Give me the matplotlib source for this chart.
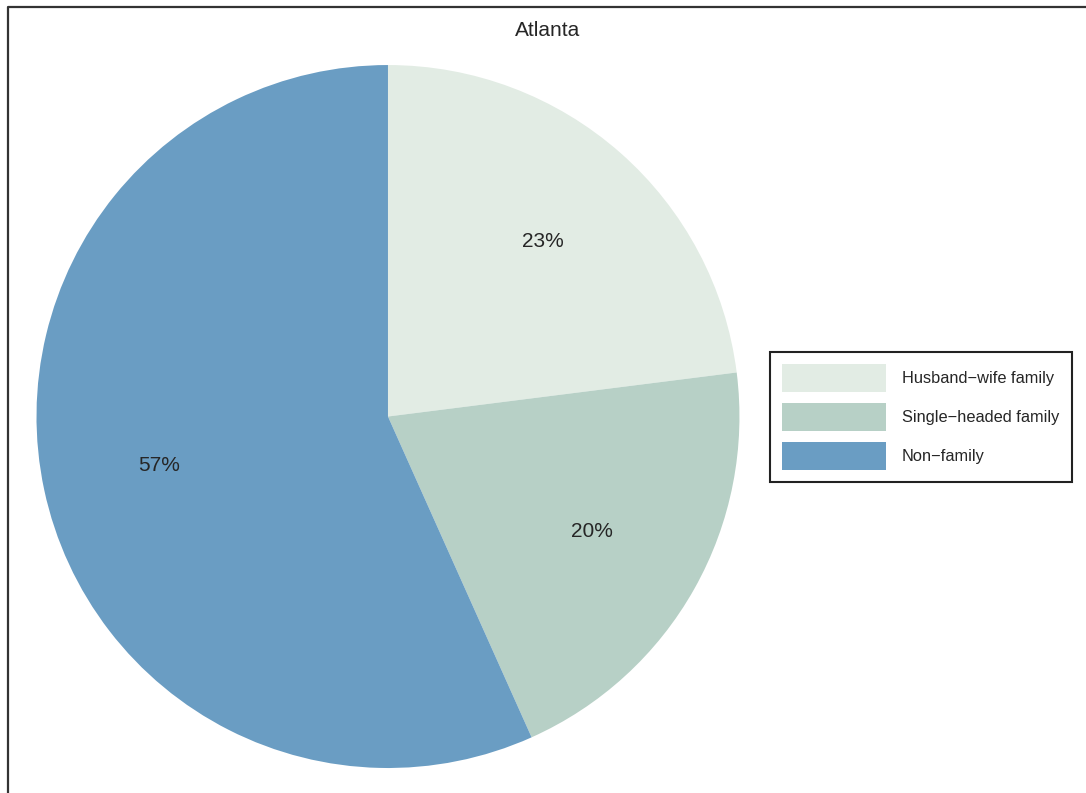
import matplotlib
matplotlib.use("Agg")
import matplotlib.pyplot as plt
from matplotlib.lines import Line2D

plt.rcParams['font.family'] = ['Liberation Sans', 'DejaVu Sans']

# household shares for Atlanta
categories = ['Husband\u2212wife family', 'Single\u2212headed family', 'Non\u2212family']
shares = [0.230, 0.203, 0.567]
colors = ['#e2ece4', '#b7d0c6', '#6a9dc3']

fig = plt.figure(figsize=(10.86, 7.93), dpi=100)

# pie axes, equal aspect
ax = fig.add_axes([0.0336, 0.0315, 0.6473, 0.8865])
wedges, texts, autotexts = ax.pie(
    shares, colors=colors, startangle=90, counterclock=False,
    autopct='%.0f%%', pctdistance=0.665, radius=1.0,
    wedgeprops=dict(linewidth=0),
    textprops=dict(fontsize=15, color='#262626'))
ax.set_xlim(-1, 1)
ax.set_ylim(-1, 1)
ax.set_aspect('equal')

fig.text(0.504, 1 - 30 / 793, 'Atlanta', ha='center', va='center',
         fontsize=15, color='#262626')

leg = fig.legend(wedges, categories, loc='upper left',
                 bbox_to_anchor=(770 / 1086, 1 - 352 / 793),
                 borderaxespad=0, fontsize=11.8, fancybox=False,
                 handlelength=6.3, handleheight=2.2, labelspacing=0.7,
                 handletextpad=1.0, borderpad=0.75, framealpha=1)
leg.get_frame().set_edgecolor('#222222')
leg.get_frame().set_linewidth(1.5)
for t in leg.get_texts():
    t.set_color('#262626')

# outer frame (left and top edges only are visible)
x0 = 7.5 / 1086
y0 = 1 - 6.5 / 793
fig.add_artist(Line2D([x0, x0, 1], [0, y0, y0], transform=fig.transFigure,
                      color='#333333', linewidth=1.6))

fig.savefig('out.png', dpi=100)
